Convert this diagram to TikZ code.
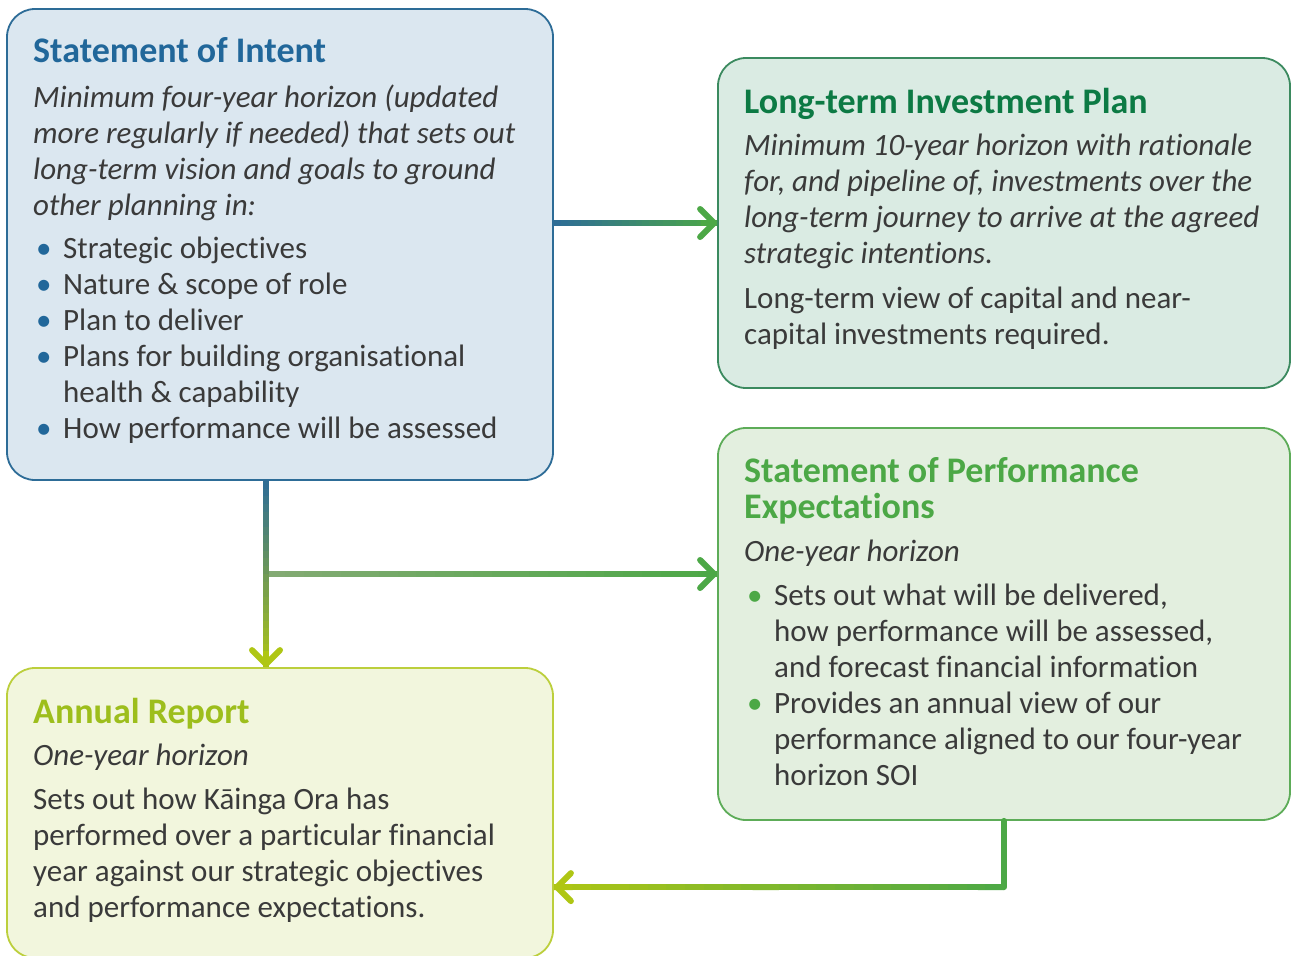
\documentclass[tikz,border=0pt]{standalone}
\usepackage{fontspec}
\setmainfont{Carlito}[Ligatures=NoCommon]
\usetikzlibrary{positioning,calc,arrows.meta}

\definecolor{soiblue}{HTML}{21679A}
\definecolor{soiline}{HTML}{2D6C97}
\definecolor{soifill}{HTML}{DBE7F0}
\definecolor{ltipgreen}{HTML}{0C7A44}
\definecolor{ltipline}{HTML}{3B8A5F}
\definecolor{ltipfill}{HTML}{DAEBE3}
\definecolor{spegreen}{HTML}{4CA846}
\definecolor{speline}{HTML}{5DAC58}
\definecolor{spefill}{HTML}{E3EFDF}
\definecolor{argreen}{HTML}{9DBE1C}
\definecolor{arline}{HTML}{BCCF3C}
\definecolor{arfill}{HTML}{F2F6DD}
\definecolor{bodytext}{HTML}{3A3A3A}
\definecolor{midtone}{HTML}{84AA74}
\definecolor{arrowyellow}{HTML}{AFC614}

\tikzset{
    box/.style={
        rectangle,
        rounded corners=28pt,
        line width=1.8pt,
        inner sep=0pt,
    },
    soibox/.style={box, draw=soiline, fill=soifill},
    ltipbox/.style={box, draw=ltipline, fill=ltipfill},
    spebox/.style={box, draw=speline, fill=spefill},
    arbox/.style={box, draw=arline, fill=arfill},
    heading/.style={
        anchor=base west,
        inner sep=0pt,
        align=left,
        font=\fontsize{36}{36}\selectfont\bfseries,
    },
    body/.style={
        anchor=base west,
        inner sep=0pt,
        align=left,
        text=bodytext,
        font=\fontsize{31}{36}\selectfont,
    },
    lead/.style={
        body,
        font=\fontsize{31}{36}\selectfont\itshape,
    },
    shaft/.style={
        line width=6pt,
        line cap=butt,
    },
    connector/.style={
        line width=6pt,
        line join=round,
        -{Straight Barb[length=14pt,width=28pt,round]},
    },
}

\newcommand{\bul}[1]{\makebox[30pt][l]{\hspace*{3pt}\textcolor{#1}{\textbullet}}}
\newcommand{\ind}{\hspace*{30pt}}
% colour run from #3 to #4 along (#1)--(#2), tip at (#2)
\newcommand{\gradline}[4]{%
    \foreach \k [evaluate=\k as \fa using {(\k-1)/24},
                 evaluate=\k as \fb using {min(\k+0.4,24)/24},
                 evaluate=\k as \pc using {int((\k-0.5)*100/24)}] in {1,...,24}{
        \draw[shaft,color=#4!\pc!#3] ($(#1)!\fa!(#2)$) -- ($(#1)!\fb!(#2)$);
    }
    \draw[connector,color=#4] ($(#2)!16pt!(#1)$) -- (#2);
}

\begin{document}
\begin{tikzpicture}[x=1pt,y=-1pt]
    \useasboundingbox[fill=white] (0,0) rectangle (1291,956);

    % boxes
    \node[soibox,minimum width=546pt,minimum height=471pt] (soi) at (280,244.5) {};
    \node[ltipbox,minimum width=572pt,minimum height=330pt] (ltip) at (1004,223) {};
    \node[spebox,minimum width=572pt,minimum height=392pt] (spe) at (1004,624) {};
    \node[arbox,minimum width=546pt,minimum height=290pt] (ar) at (280,813) {};

    % Statement of Intent (multi-line nodes sit on their last baseline)
    \node[heading,text=soiblue] (soiT) at (33,62) {Statement of Intent};
    \node[lead] (soiL) at (33,215) {Minimum four-year horizon (updated\\
        more regularly if needed) that sets out\\
        long-term vision and goals to ground\\
        other planning in:};
    \node[body] (soiB) at (33,438) {\bul{soiblue}Strategic objectives\\
        \bul{soiblue}Nature \& scope of role\\
        \bul{soiblue}Plan to deliver\\
        \bul{soiblue}Plans for building organisational\\
        \ind health \& capability\\
        \bul{soiblue}How performance will be assessed};

    % Long-term Investment Plan
    \node[heading,text=ltipgreen] (ltipT) at (744,113) {Long-term Investment Plan};
    \node[lead] (ltipL) at (744,263) {Minimum 10-year horizon with rationale\\
        for, and pipeline of, investments over the\\
        long-term journey to arrive at the agreed\\
        strategic intentions.};
    \node[body] (ltipB) at (744,344) {Long-term view of capital and near-\\
        capital investments required.};

    % Statement of Performance Expectations
    \node[heading,text=spegreen] (speT) at (744,518) {Statement of Performance\\
        Expectations};
    \node[lead] (speL) at (744,561) {One-year horizon};
    \node[body] (speB) at (744,785) {\bul{spegreen}Sets out what will be delivered,\\
        \ind how performance will be assessed,\\
        \ind and forecast financial information\\
        \bul{spegreen}Provides an annual view of our\\
        \ind performance aligned to our four-year\\
        \ind horizon SOI};

    % Annual Report
    \node[heading,text=argreen] (arT) at (33,723) {Annual Report};
    \node[lead] (arL) at (33,765) {One-year horizon};
    \node[body] (arB) at (33,917) {Sets out how Kāinga Ora has\\
        performed over a particular financial\\
        year against our strategic objectives\\
        and performance expectations.};

    % connectors
    \coordinate (split) at (266,574);
    \coordinate (soiout) at (soi.east |- ltip.west);
    \coordinate (down) at (split |- soi.south);
    \coordinate (arin) at (split |- ar.north);
    \coordinate (spein) at (split -| spe.west);
    \coordinate (back) at ($(ar.north east)+(0,220)$);
    \coordinate (bend) at (spe.south |- back);

    \gradline{soiout}{ltip.west}{soiline}{spegreen}
    \gradline{split}{spein}{midtone}{spegreen}
    \gradline{down}{arin}{soiline}{arrowyellow}
    \draw[shaft,spegreen,line cap=round] (spe.south) -- (bend);
    \gradline{bend}{back}{spegreen}{arrowyellow}
\end{tikzpicture}
\end{document}
